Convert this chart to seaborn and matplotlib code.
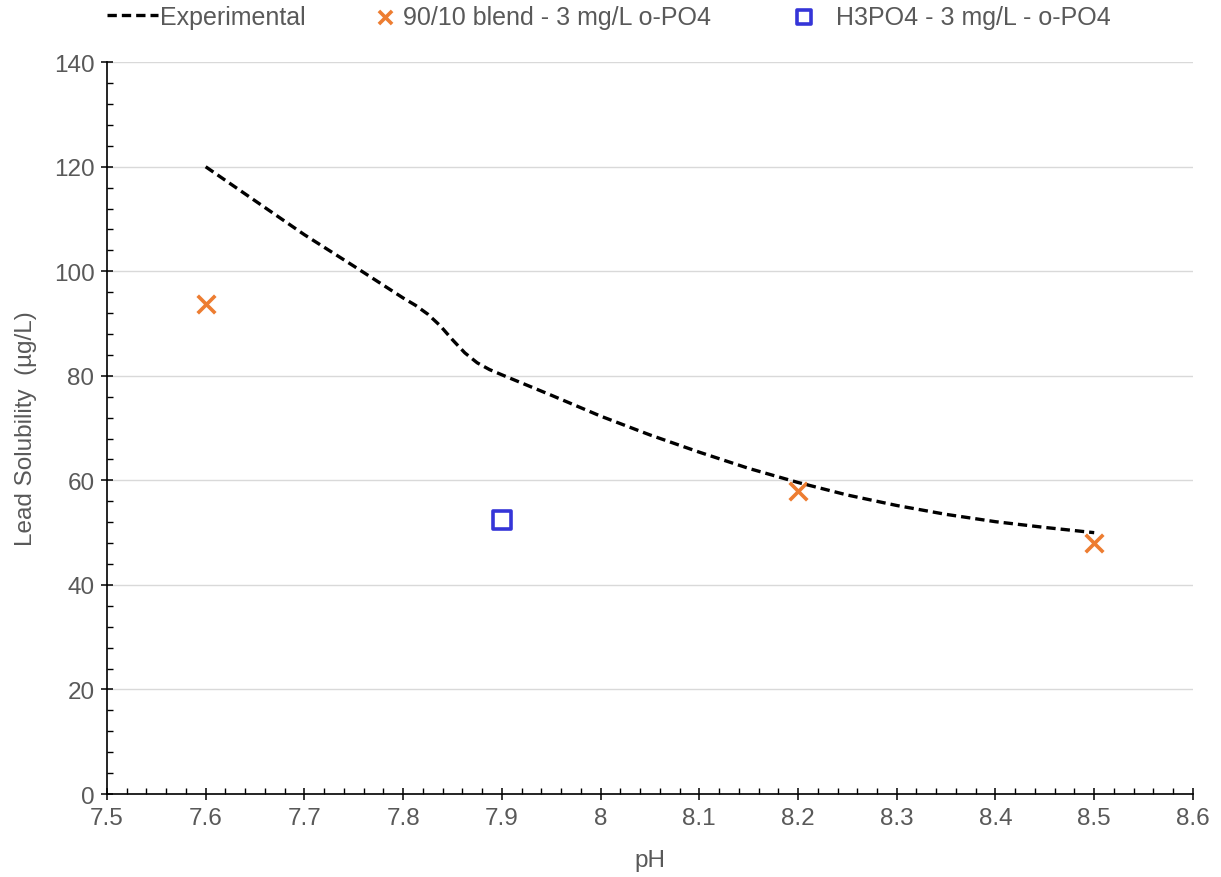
import matplotlib
matplotlib.use('Agg')
import matplotlib.pyplot as plt
import seaborn as sns
from matplotlib.ticker import MultipleLocator

# Experimental curve
exp_ph = [7.6, 7.65, 7.7, 7.75, 7.8, 7.8125, 7.825, 7.8375, 7.85, 7.8625,
          7.875, 7.8875, 7.9, 7.95, 8.0, 8.05, 8.1, 8.15, 8.2, 8.25,
          8.3, 8.35, 8.4, 8.45, 8.5]
exp_pb = [120, 113.5, 107, 101, 94.9, 93.5, 91.8, 89.6, 86.9, 84.4,
          82.5, 81.2, 80.2, 76.3, 72.3, 68.7, 65.4, 62.3, 59.6, 57.2,
          55.2, 53.5, 52.1, 51, 50]

# 90/10 blend - 3 mg/L o-PO4
blend_ph = [7.6, 8.2, 8.5]
blend_pb = [93.7, 58, 48]

# H3PO4 - 3 mg/L - o-PO4
h3po4_ph = [7.9]
h3po4_pb = [52.4]

orange = '#ED7D31'
blue = '#3535D8'
grey = '#595959'

sns.set_style('white')
plt.rcParams['font.family'] = ['Liberation Sans', 'DejaVu Sans']

fig = plt.figure(figsize=(12.21, 8.78), dpi=100)
ax = fig.add_axes([0.0876, 0.0945, 0.8894, 0.8335])

sns.lineplot(x=exp_ph, y=exp_pb, ax=ax, color='black', linewidth=2.4,
             dashes=False, label='Experimental')
ax.lines[0].set_dashes([2.8, 1.5])
sns.scatterplot(x=blend_ph, y=blend_pb, ax=ax, marker='x', color=orange,
                s=160, linewidth=2.6, label='90/10 blend - 3 mg/L o-PO4')
sns.scatterplot(x=h3po4_ph, y=h3po4_pb, ax=ax, marker='s', color=blue,
                facecolor='none', edgecolor=blue, s=180, linewidth=2.6,
                label='H3PO4 - 3 mg/L - o-PO4')

ax.set_xlim(7.5, 8.6)
ax.set_ylim(0, 140)
ax.xaxis.set_major_locator(MultipleLocator(0.1))
ax.xaxis.set_minor_locator(MultipleLocator(0.02))
ax.yaxis.set_major_locator(MultipleLocator(20))
ax.yaxis.set_minor_locator(MultipleLocator(4))
ax.set_xticks([7.5, 7.6, 7.7, 7.8, 7.9, 8.0, 8.1, 8.2, 8.3, 8.4, 8.5, 8.6])
ax.set_xticklabels(['7.5', '7.6', '7.7', '7.8', '7.9', '8', '8.1', '8.2',
                    '8.3', '8.4', '8.5', '8.6'])

ax.grid(axis='y', color='#d9d9d9', linewidth=1)
ax.set_axisbelow(True)
for side in ['top', 'right']:
    ax.spines[side].set_visible(False)
for side in ['left', 'bottom']:
    ax.spines[side].set_color('black')
    ax.spines[side].set_linewidth(1.2)

ax.tick_params(which='both', bottom=True, left=True, top=False, right=False)
ax.tick_params(which='major', direction='inout', length=8, width=1.1,
               color='black', labelsize=17.5, labelcolor=grey, pad=5)
ax.tick_params(which='minor', direction='in', length=4, width=1.0,
               color='black')

ax.set_xlabel('pH', fontsize=17.5, color=grey, labelpad=15)
ax.set_ylabel('Lead Solubility  (µg/L)', fontsize=17.5, color=grey, labelpad=12)

# legend entries laid out one by one along the top, like the original
handles, labels = ax.get_legend_handles_labels()
ax.get_legend().remove()
spots = [(0.0876, 2.05, 0.08), (0.3075, 0.8, 0.3), (0.650, 0.8, 0.9)]
for h, lab, (x0, hl, pad) in zip(handles, labels, spots):
    leg = fig.legend([h], [lab], loc='center left', bbox_to_anchor=(x0, 0.9795),
                     frameon=False, fontsize=18, handlelength=hl,
                     handletextpad=pad, borderpad=0, borderaxespad=0,
                     markerscale=0.75)
    for t in leg.get_texts():
        t.set_color(grey)

fig.savefig('out.png', dpi=100)
